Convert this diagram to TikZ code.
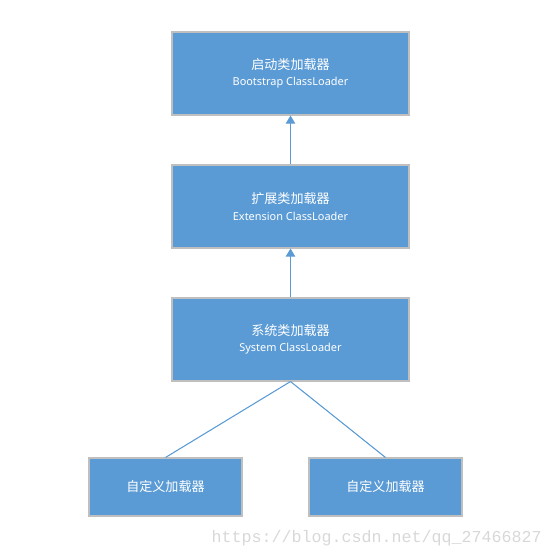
\documentclass[tikz,border=0pt]{standalone}
\usepackage{fontspec}
\setmainfont{Noto Sans}
\newfontfamily\cjk{Noto Sans CJK SC}
\newfontfamily\wmfont{Liberation Mono}
\usetikzlibrary{arrows.meta}
\definecolor{boxblue}{HTML}{5B9BD5}
\definecolor{boxline}{HTML}{BFBFBF}
\definecolor{wmgray}{HTML}{D8D8D8}
\begin{document}
\begin{tikzpicture}[x=0.75pt,y=-0.75pt,
	loader/.style={draw=boxline,fill=boxblue,text=white,line width=0.8pt,
		minimum width=237*0.75pt,minimum height=83*0.75pt,align=center,
		inner sep=0pt,font=\fontsize{8.2}{12.4}\selectfont},
	custom/.style={loader,minimum width=153*0.75pt,minimum height=58*0.75pt},
	link/.style={draw=boxblue,line width=0.8pt}]
	\useasboundingbox (0,0) rectangle (552,558);
	\node[loader] (boot) at (290.5,73.5) {{\cjk\fontsize{9.8}{12}\selectfont 启动类加载器}\\Bootstrap ClassLoader};
	\node[loader] (ext) at (290.5,206.5) {{\cjk\fontsize{9.8}{12}\selectfont 扩展类加载器}\\Extension ClassLoader};
	\node[loader] (sys) at (290.5,339.5) {{\cjk\fontsize{9.8}{12}\selectfont 系统类加载器}\\System ClassLoader};
	\node[custom] (userA) at (165.5,487) {\cjk\fontsize{9.8}{12}\selectfont 自定义加载器};
	\node[custom] (userB) at (385.5,487) {\cjk\fontsize{9.8}{12}\selectfont 自定义加载器};
	\draw[link,-{Triangle[width=7pt,length=6pt]}] (sys) -- (ext);
	\draw[link,-{Triangle[width=7pt,length=6pt]}] (ext) -- (boot);
	\draw[link] (sys.south) -- (userA.north);
	\draw[link] (sys.south) -- (userB.north);
	\node[anchor=east,text=wmgray,inner sep=0pt,font=\wmfont\fontsize{12.5}{14}\selectfont] (mark) at (542,538) {https://blog.csdn.net/qq\_27466827};
\end{tikzpicture}
\end{document}
